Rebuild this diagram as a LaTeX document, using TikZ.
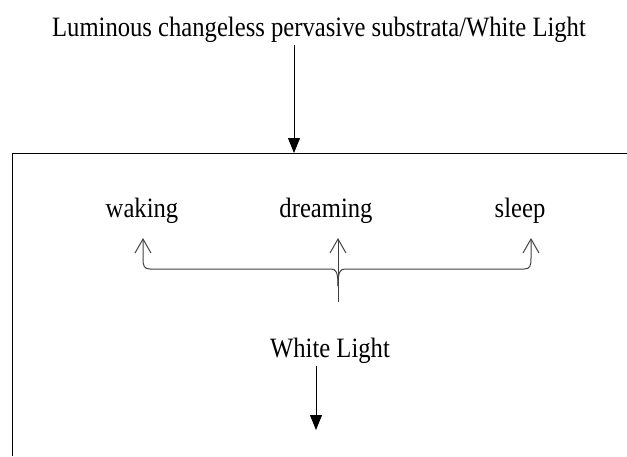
\documentclass[tikz,border=0pt]{standalone}
\usepackage{fontspec}
\setmainfont{Liberation Serif}[FakeStretch=0.88]
\usetikzlibrary{arrows.meta, positioning}

\begin{document}
\begin{tikzpicture}[x=1pt, y=-1pt,
      label/.style={inner sep=3pt, font=\fontsize{28}{33}\selectfont},
      solid/.style={-{Triangle[length=15pt, width=12pt]}, line width=0.9pt},
      open/.style={-{Straight Barb[length=14pt, width=16pt]}, line width=1pt, black!75},
      brace/.style={line width=1pt, black!75},
      ]
      \useasboundingbox (0,0) rectangle (627,456);
      %Nodes
      \node[label, anchor=base] (title)    at (319,36)  {Luminous changeless pervasive substrata/White Light};
      \node[label, anchor=base] (waking)   at (142,217) {waking};
      \node[label, anchor=base] (dreaming) at (326,217) {dreaming};
      \node[label, anchor=base] (sleep)    at (520,217) {sleep};
      \node[label, anchor=base] (white)    at (330,357) {White Light};

      %Box
      \coordinate (boxtop) at (294,153);
      \draw[line width=0.9pt] (12,456) |- (627,153);

      %Lines
      \coordinate (stem) at (338,302);
      \coordinate (wtip) at (143,238);
      \coordinate (dtip) at (338,238);
      \coordinate (stip) at (531,238);
      \coordinate (down) at (316,430);

      \draw[solid] (boxtop |- title.south) -- (boxtop);
      \draw[open] (stem) -- (dtip);
      \draw[brace, open] (338,286) .. controls (338,272) and (336,269) .. (331,269)
        -- (150,269) .. controls (144,269) and (143,266) .. (143,258) -- (wtip);
      \draw[brace, open] (338,286) .. controls (338,272) and (340,269) .. (345,269)
        -- (524,269) .. controls (530,269) and (531,266) .. (531,258) -- (stip);
      \draw[solid] (down |- white.south) -- (down);
    \end{tikzpicture}
\end{document}
